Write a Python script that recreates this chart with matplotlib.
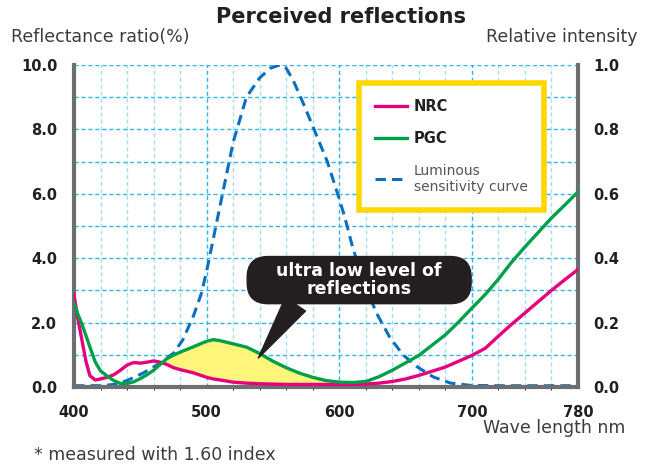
import matplotlib
matplotlib.use("Agg")
import matplotlib.pyplot as plt
from matplotlib.ticker import MultipleLocator
from matplotlib.lines import Line2D
import numpy as np

# wavelengths shared by the two reflectance curves (nm)
wavelength = [400, 403, 406, 409, 412, 416, 420, 425, 430, 435, 440, 445, 450,
              455, 460, 465, 470, 475, 480, 490, 500, 505, 510, 520, 530, 540,
              550, 560, 570, 580, 590, 600, 610, 620, 630, 640, 650, 660, 670,
              680, 690, 700, 710, 720, 730, 740, 750, 760, 770, 780]

# reflectance ratio (%)
nrc = [2.85, 2.1, 1.45, 0.8, 0.35, 0.22, 0.25, 0.3, 0.38, 0.52, 0.68, 0.76, 0.74,
       0.77, 0.81, 0.77, 0.7, 0.6, 0.54, 0.44, 0.3, 0.25, 0.22, 0.15, 0.12, 0.1,
       0.09, 0.08, 0.08, 0.08, 0.08, 0.08, 0.08, 0.09, 0.12, 0.17, 0.25, 0.36, 0.49,
       0.62, 0.8, 0.98, 1.2, 1.58, 1.95, 2.3, 2.65, 3.0, 3.33, 3.65]
pgc = [2.6, 2.25, 1.95, 1.6, 1.24, 0.78, 0.5, 0.34, 0.2, 0.11, 0.11, 0.16, 0.26,
       0.38, 0.52, 0.7, 0.88, 0.99, 1.08, 1.25, 1.42, 1.47, 1.44, 1.34, 1.24, 1.04,
       0.8, 0.6, 0.43, 0.3, 0.2, 0.15, 0.14, 0.17, 0.32, 0.52, 0.75, 0.98, 1.3,
       1.62, 2.02, 2.45, 2.87, 3.35, 3.88, 4.35, 4.8, 5.25, 5.65, 6.06]

# luminous sensitivity curve (relative intensity)
lum_wavelength = [400, 420, 430, 440, 452, 465, 475, 482, 490, 496, 500, 510, 520,
                  530, 540, 548, 555, 560, 565, 574, 583, 591, 598, 604, 610, 618,
                  628, 638, 648, 659, 671, 684, 699, 720, 780]
luminous = [0.004, 0.004, 0.008, 0.02, 0.043, 0.074, 0.105, 0.146, 0.22, 0.29,
            0.36, 0.56, 0.76, 0.9, 0.96, 0.99, 1.0, 0.99, 0.955, 0.87, 0.78, 0.7,
            0.61, 0.53, 0.435, 0.33, 0.23, 0.155, 0.1, 0.062, 0.031, 0.012, 0.005,
            0.004, 0.004]

x_ticks = [400, 500, 600, 700, 780]
left_ticks = [0.0, 2.0, 4.0, 6.0, 8.0, 10.0]
right_ticks = [0.0, 0.2, 0.4, 0.6, 0.8, 1.0]

text_color = "#231F20"
label_color = "#3C3C3C"
spine_color = "#6D6E71"
grid_major = "#2DB7EE"
grid_minor = "#A6DCF4"
c_nrc = "#E6007E"
c_pgc = "#00A04A"
c_lum = "#0A6FBF"

fig = plt.figure(figsize=(6.52, 4.68), dpi=100)
ax2 = fig.add_axes([74 / 652, 1 - 387 / 468, 504 / 652, 322 / 468])
ax = ax2.twinx()
ax.set_zorder(ax2.get_zorder() + 1)
ax.patch.set_visible(False)

# back axes: grid and luminous curve
ax2.set_xlim(400, 780)
ax2.set_ylim(0, 1.0)
ax2.xaxis.set_major_locator(plt.FixedLocator([500, 600, 700]))
ax2.xaxis.set_minor_locator(MultipleLocator(20))
ax2.yaxis.set_major_locator(MultipleLocator(0.1))
ax2.grid(which="major", axis="x", color=grid_major, lw=1.0, ls=(0, (3, 2)))
ax2.grid(which="minor", axis="x", color=grid_minor, lw=1.0, ls=(0, (3, 2)))
ax2.grid(which="major", axis="y", color=grid_major, lw=1.0, ls=(0, (3, 2)))
ax2.set_axisbelow(True)
ax2.tick_params(which="both", length=0, labelbottom=False, labelleft=False,
                labelright=False)
for s in ax2.spines.values():
    s.set_visible(False)

ax2.plot(lum_wavelength, luminous, color=c_lum, lw=2.2, dashes=(3.4, 2.0),
         zorder=3)

# front axes: reflectance curves
ax.xaxis.set_visible(True)
ax.yaxis.tick_left()
ax.set_xlim(400, 780)
ax.set_ylim(0, 10.0)
wl = np.array(wavelength)
ax.fill_between(wl, nrc, pgc, where=(wl >= 466) & (wl <= 598),
                color="#FFF57A", lw=0, interpolate=True, zorder=1)
ax.plot(wavelength, nrc, color=c_nrc, lw=2.4, zorder=3)
ax.plot(wavelength, pgc, color=c_pgc, lw=2.4, zorder=3)

ax.set_xticks(x_ticks)
ax.set_xticklabels([str(v) for v in x_ticks])
ax.set_yticks(left_ticks)
ax.set_yticklabels([f"{v:.1f}" for v in left_ticks])
ax.tick_params(axis="y", length=0, labelsize=10.5, colors=text_color, pad=12)
ax.tick_params(axis="x", length=0, labelsize=10.5, colors=text_color, pad=13,
               labelbottom=True)

right = ax.secondary_yaxis("right", functions=(lambda v: v / 10, lambda v: v * 10))
right.set_yticks(right_ticks)
right.set_yticklabels([f"{v:.1f}" for v in right_ticks])
right.tick_params(length=0, labelsize=10.5, colors=text_color, pad=11)
right.spines["right"].set_visible(False)

for lab in ax.get_xticklabels() + ax.get_yticklabels() + right.get_yticklabels():
    lab.set_fontweight("bold")

for side in ["left", "right", "bottom"]:
    ax.spines[side].set_color(spine_color)
    ax.spines[side].set_linewidth(3)
ax.spines["top"].set_visible(False)

# legend
handles = [Line2D([], [], color=c_nrc, lw=2.4),
           Line2D([], [], color=c_pgc, lw=2.4),
           Line2D([], [], color=c_lum, lw=2.2, dashes=(3.4, 2.0))]
leg = ax.legend(handles, ["NRC", "PGC", "Luminous\nsensitivity curve"],
                loc="upper left", bbox_to_anchor=(359 / 652, 1 - 83 / 468),
                bbox_transform=fig.transFigure, fancybox=False,
                framealpha=1, edgecolor="#FFD700", fontsize=10,
                handlelength=2.3, handletextpad=0.5, labelspacing=1.25,
                borderpad=1.15, borderaxespad=0)
leg.get_frame().set_linewidth(4)
leg.set_zorder(6)
for i, t in enumerate(leg.get_texts()):
    if i < 2:
        t.set_fontweight("bold")
        t.set_color(text_color)
        t.set_fontsize(10.5)
    else:
        t.set_color("#555555")

# callout
ax.annotate("    ultra low level of    \nreflections", xy=(539, 0.9),
            xytext=(615, 3.32), ha="center", va="center", color="white",
            fontsize=12.5, fontweight="bold", linespacing=1.05, zorder=7,
            bbox=dict(boxstyle="round,pad=0.3,rounding_size=1.2",
                      fc="#231F20", ec="#231F20"),
            arrowprops=dict(arrowstyle="wedge,tail_width=1.4,shrink_factor=0.5",
                            fc="#231F20", ec="#231F20", relpos=(0.22, 0.0),
                            shrinkA=0, shrinkB=0))

fig.text(341 / 652, 1 - 17 / 468, "Perceived reflections", ha="center",
         va="center", fontsize=15, fontweight="bold", color=text_color)
fig.text(11 / 652, 1 - 37 / 468, "Reflectance ratio(%)", ha="left",
         va="center", fontsize=12.5, color=label_color)
fig.text(638 / 652, 1 - 37 / 468, "Relative intensity", ha="right",
         va="center", fontsize=12.5, color=label_color)
fig.text(625 / 652, 1 - 428 / 468, "Wave length nm", ha="right",
         va="center", fontsize=12.5, color=label_color)
fig.text(34 / 652, 1 - 455 / 468, "* measured with 1.60 index", ha="left",
         va="center", fontsize=12.5, color=label_color)

fig.savefig("out.png", dpi=100)
